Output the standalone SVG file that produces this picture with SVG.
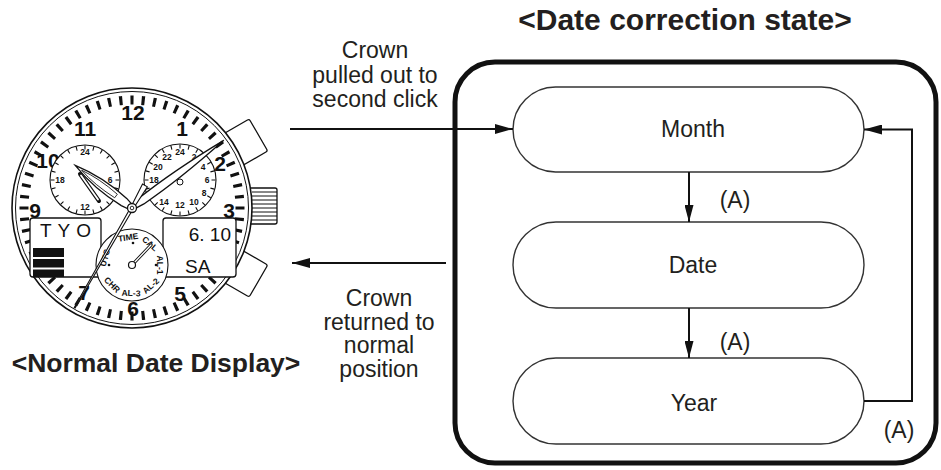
<svg xmlns="http://www.w3.org/2000/svg" width="941" height="470" viewBox="0 0 941 470">
<style>
  .t { font-family: "Liberation Sans", Arial, sans-serif; fill: #231f20; }
  .lbl { font-size: 23px; text-anchor: middle; }
  .ttl { font-size: 30px; font-weight: bold; text-anchor: middle; }
  .pill { fill: #fff; stroke: #333; stroke-width: 1.4; }
  .num { font-family: "Liberation Sans", Arial, sans-serif; font-weight: bold; font-size: 21px; text-anchor: middle; fill: #111; }
  .sn { font-family: "Liberation Sans", Arial, sans-serif; font-weight: bold; font-size: 8.5px; text-anchor: middle; fill: #111; }
  .lcd { font-family: "Liberation Sans", Arial, sans-serif; font-size: 19px; fill: #111; }
  .ln { fill: none; stroke: #111; }
  .conn { fill: none; stroke: #111; stroke-width: 2; }
</style>
<defs>
  <marker id="ah" markerUnits="userSpaceOnUse" markerWidth="18" markerHeight="10" refX="18" refY="5" orient="auto">
    <path d="M0,0 L18,5 L0,10 Z" fill="#111"/>
  </marker>
  <marker id="av" markerUnits="userSpaceOnUse" markerWidth="17" markerHeight="9" refX="17" refY="4.5" orient="auto">
    <path d="M0,0 L17,4.5 L0,9 Z" fill="#111"/>
  </marker>
</defs>
<rect width="941" height="470" fill="#fff"/>

<!-- Watch illustration -->
<g id="watch">
  <g transform="translate(132,208) rotate(-30)">
    <rect x="100" y="-18.5" width="46" height="37" rx="2" fill="#fff" stroke="#111" stroke-width="1.3"/>
  </g>
  <g transform="translate(132,208) rotate(30)">
    <rect x="100" y="-18.5" width="46" height="37" rx="2" fill="#fff" stroke="#111" stroke-width="1.3"/>
  </g>
  <rect x="246" y="188" width="31" height="36" rx="2" fill="#fff" stroke="#111" stroke-width="1.3"/>
  <path class="ln" stroke-width="1" d="M252,192H277M252,196H277M252,200H277M252,204H277M252,208H277M252,212H277M252,216H277M252,220H277"/>
  <circle cx="132" cy="208" r="120" fill="#fff" stroke="#111" stroke-width="1.6"/>
  <circle cx="132" cy="208" r="116.5" fill="none" stroke="#111" stroke-width="1"/>
  <circle cx="132" cy="208" r="108" fill="none" stroke="#111" stroke-width="9" pathLength="600" stroke-dasharray="2.8 7.2" stroke-dashoffset="1.4"/>
  <text class="num" x="133" y="119.5">12</text>
  <text class="num" x="182" y="135.5">1</text>
  <text class="num" x="220" y="170.5">2</text>
  <text class="num" x="229" y="217.5">3</text>
  <text class="num" x="180" y="300.5">5</text>
  <text class="num" x="133" y="315.5">6</text>
  <text class="num" x="84" y="299.5">7</text>
  <text class="num" x="35" y="217.5">9</text>
  <text class="num" x="48" y="167.5">10</text>
  <text class="num" x="85" y="135.5">11</text>
  <rect x="30" y="218" width="71" height="59" rx="3" fill="#fff" stroke="#111" stroke-width="1.3"/>
  <text class="lcd" x="40" y="237" letter-spacing="6">TYO</text>
  <rect x="33" y="248" width="31" height="9" fill="#111"/>
  <rect x="33" y="259" width="31" height="8.5" fill="#111"/>
  <rect x="33" y="269.5" width="31" height="7.5" fill="#111"/>
  <rect x="163" y="218" width="73" height="59" rx="3" fill="#fff" stroke="#111" stroke-width="1.3"/>
  <text class="lcd" x="231" y="241" text-anchor="end">6. 10</text>
  <text class="lcd" x="185" y="273">SA</text>
  <circle cx="85" cy="180" r="35" fill="#fff" stroke="#111" stroke-width="1.1"/>
  <circle cx="85" cy="180" r="32.5" fill="none" stroke="#111" stroke-width="4" pathLength="240" stroke-dasharray="1.3 8.7" stroke-dashoffset="0.65"/>
  <text class="sn" x="85" y="155">24</text>
  <text class="sn" x="110" y="183">6</text>
  <text class="sn" x="85" y="210">12</text>
  <text class="sn" x="60" y="183">18</text>
  <path d="M80,174 L99,201" stroke="#111" stroke-width="4" stroke-linecap="round"/>
  <path d="M81,175.5 L98,199.5" stroke="#fff" stroke-width="1.8" stroke-linecap="round"/>
  <circle cx="180" cy="180" r="36" fill="#fff" stroke="#111" stroke-width="1.1"/>
  <circle cx="180" cy="180" r="33.5" fill="none" stroke="#111" stroke-width="4" pathLength="240" stroke-dasharray="1.3 8.7" stroke-dashoffset="0.65"/>
  <text class="sn" x="180" y="155">24</text>
  <text class="sn" x="167" y="160">22</text>
  <text class="sn" x="158" y="170">20</text>
  <text class="sn" x="154" y="183">18</text>
  <text class="sn" x="164" y="205">14</text>
  <text class="sn" x="180" y="208">12</text>
  <text class="sn" x="194" y="205">10</text>
  <text class="sn" x="204" y="196">8</text>
  <text class="sn" x="207" y="183">6</text>
  <text class="sn" x="203" y="170">4</text>
  <text class="sn" x="194" y="160">2</text>
  <circle cx="180" cy="182" r="3" fill="#fff" stroke="#111" stroke-width="1"/>
  <circle cx="132" cy="265" r="36" fill="#fff" stroke="#111" stroke-width="1.1"/>
  <g class="sn" font-size="7">
    <text transform="translate(132,265) rotate(-8) translate(0,-25)">TIME</text>
    <text transform="translate(132,265) rotate(40) translate(0,-25)">CAL</text>
    <text transform="translate(132,265) rotate(90) translate(0,-25)">AL-1</text>
    <text transform="translate(132,265) rotate(-42) translate(0,31)">AL-2</text>
    <text transform="translate(132,265) rotate(2) translate(0,31)">AL-3</text>
    <text transform="translate(132,265) rotate(45) translate(0,31)">CHR</text>
    <text transform="translate(132,265) rotate(-75) translate(0,-25)">UTC</text>
  </g>
  <circle cx="133" cy="243" r="1.3" fill="#111"/>
  <circle cx="109" cy="265" r="1.3" fill="#111"/>
  <circle cx="156" cy="265" r="1.3" fill="#111"/>
  <path d="M133,264 L151,245" stroke="#111" stroke-width="3.2" stroke-linecap="round"/>
  <path d="M133,264 L151,245" stroke="#fff" stroke-width="1.3" stroke-linecap="round"/>
  <circle cx="132" cy="265" r="3.5" fill="#fff" stroke="#111" stroke-width="1.2"/>
  <g transform="translate(132,208) rotate(216.87)">
    <path d="M0,-2.5 L10,-4.5 Q42,-7.5 71,0 Q42,7.5 10,4.5 L0,2.5 Z" fill="#fff" stroke="#111" stroke-width="1.3"/>
    <path d="M20,-2.2 Q44,-4 63,0 Q44,4 20,2.2 Z" fill="none" stroke="#111" stroke-width="0.8"/>
  </g>
  <g transform="translate(132,208) rotate(-36.4)">
    <path d="M0,-2 L12,-3.8 Q55,-5.5 114,0 Q55,5.5 12,3.8 L0,2 Z" fill="#fff" stroke="#111" stroke-width="1.3"/>
  </g>
  <g transform="translate(132,208) rotate(119.9)">
    <path d="M-26,-2.8 L0,-1.4 L115,-0.5 L115,0.5 L0,1.4 L-26,2.8 Z" fill="#fff" stroke="#111" stroke-width="1.1"/>
  </g>
  <circle cx="132" cy="208" r="4.5" fill="#fff" stroke="#111" stroke-width="1.3"/>
  <circle cx="132" cy="208" r="1.8" fill="#fff" stroke="#111" stroke-width="0.9"/>
</g>

<text id="normal-title" class="t" x="156" y="372" font-size="26.5" font-weight="bold" text-anchor="middle">&lt;Normal Date Display&gt;</text>

<g id="state-frame">
  <rect x="455" y="62" width="481" height="401" rx="40" fill="none" stroke="#111" stroke-width="5"/>
  <text class="t ttl" x="685" y="30">&lt;Date correction state&gt;</text>
</g>

<g id="month">
  <rect class="pill" x="513" y="87" width="351" height="85" rx="42.5"/>
  <text class="t lbl" x="693" y="137">Month</text>
</g>
<g id="date">
  <rect class="pill" x="513" y="222" width="351" height="86" rx="43"/>
  <text class="t lbl" x="693" y="273">Date</text>
</g>
<g id="year">
  <rect class="pill" x="513" y="358" width="351" height="86" rx="43"/>
  <text class="t lbl" x="694" y="411">Year</text>
</g>

<g id="connectors">
  <path class="conn" d="M290,129 H513" marker-end="url(#ah)"/>
  <path class="conn" d="M446,263 H292" marker-end="url(#ah)"/>
  <path class="conn" stroke-width="1.8" d="M689,172 V222" marker-end="url(#av)"/>
  <path class="conn" stroke-width="1.8" d="M689,308 V358" marker-end="url(#av)"/>
  <path class="conn" d="M864,401 H912 V129.5 H864" marker-end="url(#ah)"/>
</g>

<g id="labels">
  <text class="t lbl" x="375"><tspan x="375" y="58">Crown</tspan><tspan x="375" y="83">pulled out to</tspan><tspan x="375" y="107">second click</tspan></text>
  <text class="t lbl" x="379"><tspan x="379" y="306">Crown</tspan><tspan x="379" y="329.5">returned to</tspan><tspan x="379" y="353">normal</tspan><tspan x="379" y="376.5">position</tspan></text>
  <text class="t lbl" x="735" y="208">(A)</text>
  <text class="t lbl" x="735" y="350">(A)</text>
  <text class="t lbl" x="899" y="438">(A)</text>
</g>
</svg>
